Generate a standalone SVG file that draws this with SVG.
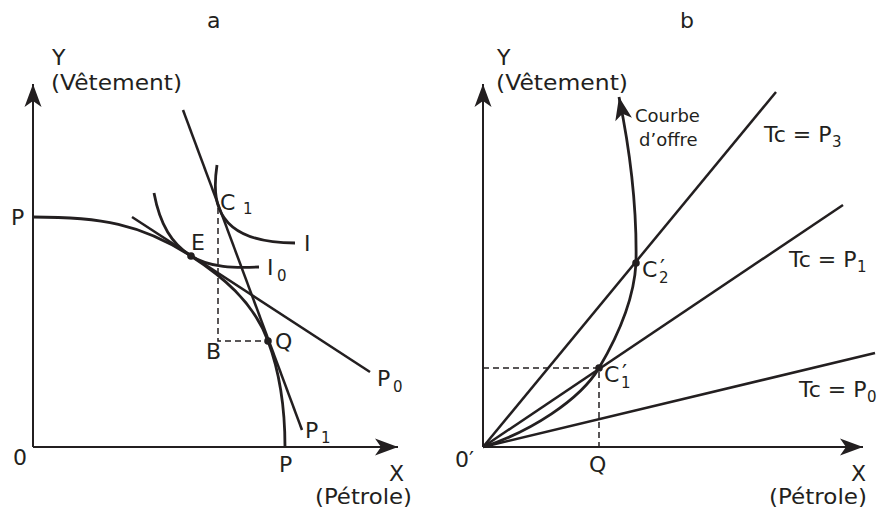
<svg xmlns="http://www.w3.org/2000/svg" width="879" height="509" viewBox="0 0 879 509">
<style>
text{font-family:"DejaVu Sans","Liberation Sans",sans-serif;font-size:22px;fill:#231f20}
.sub{font-size:15px}
.sm{font-size:18px}
.ax{stroke:#231f20;stroke-width:2;fill:none}
.ln{stroke:#231f20;stroke-width:2.5;fill:none}
.cv{stroke:#231f20;stroke-width:2.8;fill:none}
.da{stroke:#231f20;stroke-width:1.5;fill:none;stroke-dasharray:6 4}
.dot{fill:#231f20}
</style>
<defs>
<marker id="arr" markerUnits="userSpaceOnUse" viewBox="-24 -10 26 20" markerWidth="26" markerHeight="20" refX="0" refY="0" orient="auto">
<path d="M0,0 L-23,-8.5 L-17,0 L-23,8.5 Z" fill="#231f20"/>
</marker>
</defs>
<rect width="879" height="509" fill="#fff"/>
<g id="connectors">
<path class="ax" d="M33,447 L33,84" marker-end="url(#arr)"/>
<path class="ax" d="M33,447 L398,447" marker-end="url(#arr)"/>
<path class="cv" d="M33,217 C100,217 141,223.5 191,256 C221,275.5 253,301 268,341 C280,373 285,410 285,447"/>
<path class="ln" d="M132,217 L370,372"/>
<path class="ln" d="M183,110 L302,430"/>
<path class="cv" d="M217,165 C214,185 215,198 219,208 C228,232 255,243 295,243"/>
<path class="cv" d="M154,193 C160,225 172,244 191,256 C210,268 235,268 259,267"/>
<path class="da" d="M218,208 L218,341 L268,341"/>
<path class="ax" d="M483,447 L483,84" marker-end="url(#arr)"/>
<path class="ax" d="M483,447 L863,447" marker-end="url(#arr)"/>
<path class="ln" d="M483,447 L776,92"/>
<path class="ln" d="M483,447 L843,205"/>
<path class="ln" d="M483,447 L875,353"/>
<path class="cv" d="M483,447 C530,432 580,400 599,368 C618,336 634,300 636,263 C637,210 632,160 619,97" marker-end="url(#arr)"/>
<path class="da" d="M483,368 L599,368 L599,447"/>
</g>
<g id="nodes">
<g id="title-a"><text x="207" y="28">a</text></g>
<g id="axis-y-a"><text x="52" y="65">Y</text><text x="51" y="90" textLength="131" lengthAdjust="spacingAndGlyphs">(Vêtement)</text></g>
<g id="axis-x-a"><text x="389" y="481">X</text><text x="315" y="504" textLength="97" lengthAdjust="spacingAndGlyphs">(Pétrole)</text></g>
<g id="origin-a"><text x="13" y="465">0</text></g>
<g id="P-top"><text x="11" y="225">P</text></g>
<g id="P-bottom"><text x="279" y="472">P</text></g>
<g id="E"><circle class="dot" cx="191" cy="256" r="3.8"/><text x="191" y="250">E</text></g>
<g id="Q-a"><circle class="dot" cx="268" cy="341" r="3.8"/><text x="275" y="349">Q</text></g>
<g id="B"><text x="206" y="359">B</text></g>
<g id="C1"><text x="220" y="210">C<tspan class="sub" x="243" y="214">1</tspan></text></g>
<g id="I"><text x="304" y="251">I</text></g>
<g id="I0"><text x="267" y="275">I<tspan class="sub" x="277" y="281">0</tspan></text></g>
<g id="P0"><text x="377" y="386">P<tspan class="sub" x="393" y="392">0</tspan></text></g>
<g id="P1"><text x="305" y="438">P<tspan class="sub" x="321" y="443">1</tspan></text></g>
<g id="title-b"><text x="680" y="28">b</text></g>
<g id="axis-y-b"><text x="497" y="65">Y</text><text x="496" y="90" textLength="132" lengthAdjust="spacingAndGlyphs">(Vêtement)</text></g>
<g id="axis-x-b"><text x="851" y="481">X</text><text x="769" y="504" textLength="98" lengthAdjust="spacingAndGlyphs">(Pétrole)</text></g>
<g id="origin-b"><text x="455" y="467">0′</text></g>
<g id="Q-b"><text x="589" y="472">Q</text></g>
<g id="offer-label"><text class="sm" x="635" y="122">Courbe</text><text class="sm" x="639" y="146">d’offre</text></g>
<g id="Tc-P3"><text x="764" y="142">Tc = P<tspan class="sub" x="832" y="147">3</tspan></text></g>
<g id="Tc-P1"><text x="789" y="267">Tc = P<tspan class="sub" x="857" y="272">1</tspan></text></g>
<g id="Tc-P0"><text x="799" y="397">Tc = P<tspan class="sub" x="867" y="402">0</tspan></text></g>
<g id="C2p"><circle class="dot" cx="636" cy="263" r="3.8"/><text x="642" y="277">C<tspan x="660" y="275">′</tspan><tspan class="sub" x="659" y="283">2</tspan></text></g>
<g id="C1p"><circle class="dot" cx="599" cy="368" r="3.8"/><text x="604" y="382">C<tspan x="622" y="380">′</tspan><tspan class="sub" x="621" y="388">1</tspan></text></g>
</g>
</svg>
